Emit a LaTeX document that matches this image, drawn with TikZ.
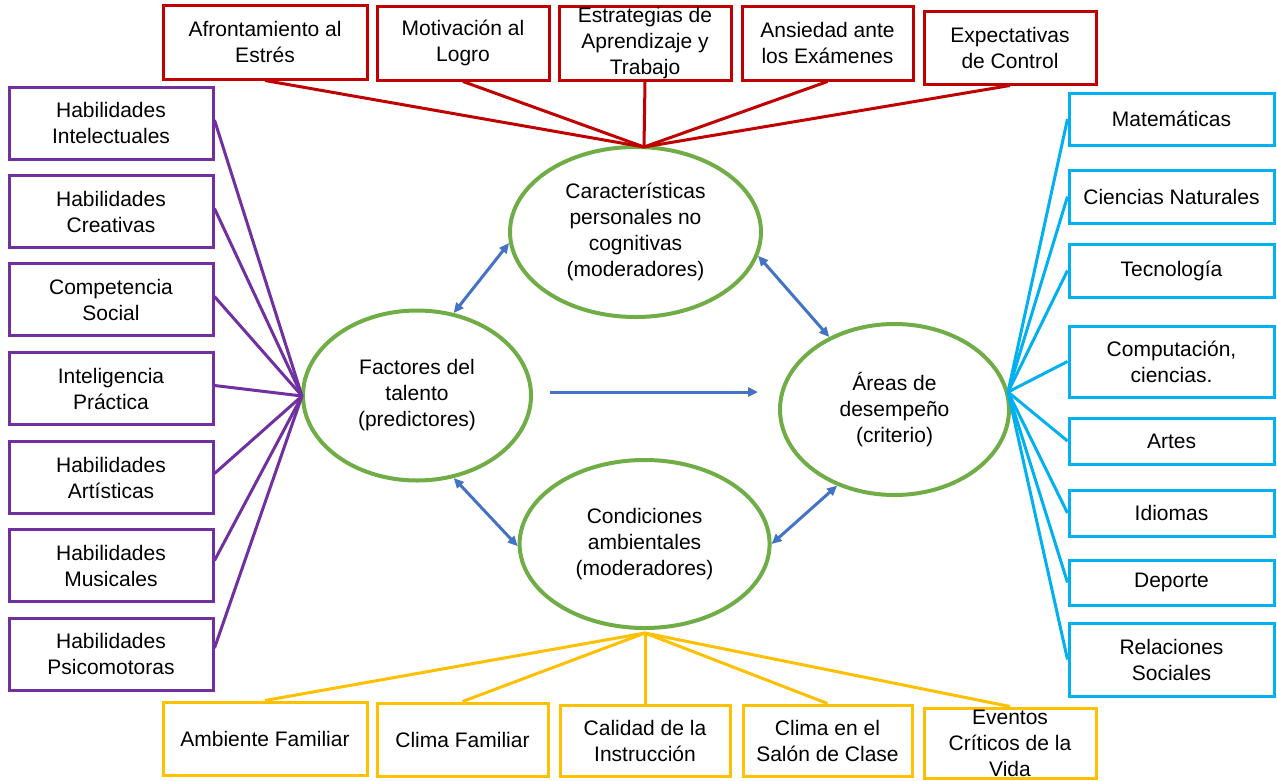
\documentclass[tikz,border=0pt]{standalone}
\usepackage{fontspec}
\setmainfont{Liberation Sans}
\usetikzlibrary{arrows.meta,shapes.geometric}
\definecolor{cred}{HTML}{C00000}
\definecolor{cpur}{HTML}{7030A0}
\definecolor{cblu}{HTML}{00B0F0}
\definecolor{cyel}{HTML}{FFC000}
\definecolor{cgrn}{HTML}{70AD47}
\definecolor{carr}{HTML}{4472C4}
\begin{document}
\begin{tikzpicture}[x=1pt,y=-1pt,
  txt/.style={font=\fontsize{21}{26}\selectfont, align=center, text=black},
  box/.style={txt, draw, rectangle, line width=3pt, inner sep=0pt, fill=white},
  redbox/.style={box, draw=cred, minimum height=74pt},
  purbox/.style={box, draw=cpur, minimum width=204pt, minimum height=72pt},
  blubox/.style={box, draw=cblu, minimum width=205pt},
  yelbox/.style={box, draw=cyel, minimum height=72pt},
  oval/.style={txt, draw=cgrn, ellipse, line width=4pt, inner sep=0pt, fill=white},
  redln/.style={draw=cred, line width=3pt},
  purln/.style={draw=cpur, line width=3pt},
  bluln/.style={draw=cblu, line width=3pt},
  yelln/.style={draw=cyel, line width=3pt},
  arr/.style={draw=carr, line width=3pt, -{Triangle[length=10pt,width=9pt]}},
  darr/.style={draw=carr, line width=3pt, {Triangle[length=10pt,width=9pt]}-{Triangle[length=10pt,width=9pt]}},
]
\useasboundingbox[fill=white] (0,0) rectangle (1277,780);

% ellipses
\node[oval, minimum width=251pt, minimum height=170pt] (car) at (635.5,232) {Características\\personales no\\cognitivas\\(moderadores)};
\node[oval, minimum width=228pt, minimum height=170pt] (fac) at (417,395.5) {Factores del\\talento\\(predictores)};
\node[oval, minimum width=229pt, minimum height=171pt] (are) at (894.5,409.5) {Áreas de\\desempeño\\(criterio)};
\node[oval, minimum width=250pt, minimum height=168pt] (con) at (644.6,544) {Condiciones\\ambientales\\(moderadores)};

% apex points
\coordinate (rap) at (644,147);
\coordinate (yap) at (645,633);
\coordinate (pap) at (302,396);
\coordinate (bap) at (1008,392);

% red boxes
\node[redbox, minimum width=204pt] (afr) at (265,42) {Afrontamiento al\\Estrés};
\node[redbox, minimum width=172pt] (mot) at (463,43) {Motivación al\\Logro};
\node[redbox, minimum width=172pt] (est) at (645,43) {Estrategias de\\Aprendizaje y\\Trabajo};
\node[redbox, minimum width=171pt] (ans) at (827.5,43) {Ansiedad ante\\los Exámenes};
\node[redbox, minimum width=172pt, minimum height=73pt] (exq) at (1010,47.5) {Expectativas\\de Control};

% purple boxes
\node[purbox] (p1) at (111,123) {Habilidades\\Intelectuales};
\node[purbox] (p2) at (111,211.5) {Habilidades\\Creativas};
\node[purbox] (p3) at (111,299.5) {Competencia\\Social};
\node[purbox] (p4) at (111,388.5) {Inteligencia\\Práctica};
\node[purbox] (p5) at (111,477.5) {Habilidades\\Artísticas};
\node[purbox] (p6) at (111,565.5) {Habilidades\\Musicales};
\node[purbox] (p7) at (111,654) {Habilidades\\Psicomotoras};

% blue boxes
\node[blubox, minimum height=52pt] (b1) at (1171.5,119) {Matemáticas};
\node[blubox, minimum height=53pt] (b2) at (1171.5,196.5) {Ciencias Naturales};
\node[blubox, minimum height=53pt] (b3) at (1171.5,270.5) {Tecnología};
\node[blubox, minimum height=71pt] (b4) at (1171.5,361.5) {Computación,\\ciencias.};
\node[blubox, minimum height=46pt] (b5) at (1171.5,441) {Artes};
\node[blubox, minimum height=46pt] (b6) at (1171.5,513) {Idiomas};
\node[blubox, minimum height=45pt] (b7) at (1171.5,582.5) {Deporte};
\node[blubox, minimum height=73pt] (b8) at (1171.5,659.5) {Relaciones\\Sociales};

% yellow boxes
\node[yelbox, minimum width=204pt, minimum height=73pt] (y1) at (265,738.5) {Ambiente Familiar};
\node[yelbox, minimum width=171pt, minimum height=73pt] (y2) at (462.5,739.5) {Clima Familiar};
\node[yelbox, minimum width=170pt, minimum height=71pt] (y3) at (645,740.5) {Calidad de la\\Instrucción};
\node[yelbox, minimum width=169pt, minimum height=71pt] (y4) at (827.5,740.5) {Clima en el\\Salón de Clase};
\node[yelbox, minimum width=172pt, minimum height=70pt] (y5) at (1010,743) {Eventos\\Críticos de la\\Vida};

% red connectors
\foreach \n in {afr,mot,est,ans,exq} \draw[redln] (\n.south) -- (rap);
% purple connectors
\foreach \n/\s in {p1/3,p2/3,p3/3,p4/3,p5/4,p6/5,p7/6} \draw[purln] ([yshift=\s pt]\n.east) -- (pap);
% blue connectors
\foreach \n in {b1,b2,b3,b4,b5,b6,b7,b8} \draw[bluln] (\n.west) -- (bap);
% yellow connectors
\foreach \n in {y1,y2,y3,y4,y5} \draw[yelln] (\n.north) -- (yap);

% blue arrows
\draw[darr] (fac.66) -- (car.185);
\draw[darr] (car.349) -- (are.132);
\draw[arr] ([xshift=17pt,yshift=3.5pt]fac.east) -- ([xshift=-20pt,yshift=17.5pt]are.west);
\draw[darr] (fac.294) -- (con.181);
\draw[darr] (con.east) -- (are.233);
\end{tikzpicture}
\end{document}
